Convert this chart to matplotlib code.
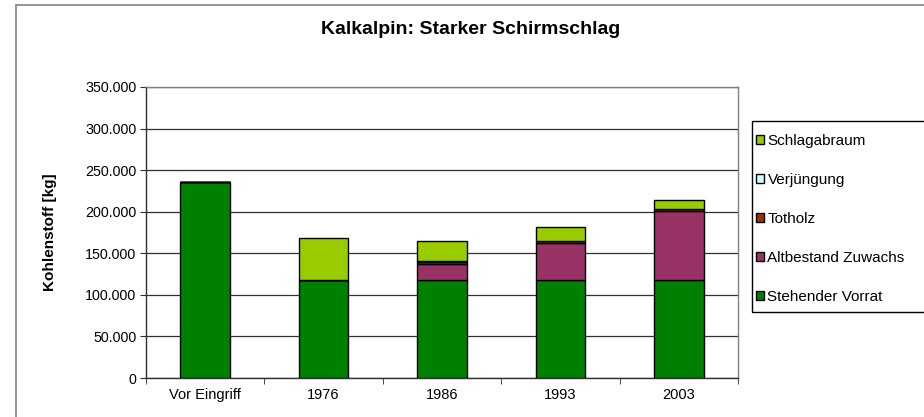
import matplotlib
matplotlib.use("Agg")
import matplotlib.pyplot as plt
from matplotlib.patches import Rectangle, Patch
from matplotlib.ticker import FuncFormatter, FixedLocator
import numpy as np

plt.rcParams['font.family'] = ['Liberation Sans', 'DejaVu Sans']

categories = ["Vor Eingriff", "1976", "1986", "1993", "2003"]
series_names = ["Stehender Vorrat", "Altbestand Zuwachs", "Totholz", "Verjüngung", "Schlagabraum"]
stehender_vorrat = [236000, 118000, 118000, 118000, 118000]
altbestand_zuwachs = [0, 0, 19500, 44300, 83300]
totholz = [0, 0, 2500, 2300, 1800]
verjuengung = [0, 0, 300, 400, 400]
schlagabraum = [0, 50000, 24500, 17000, 10300]
colors = ["#008000", "#993366", "#993300", "#CCFFFF", "#99CC00"]

W, H = 924, 417
fig = plt.figure(figsize=(W / 100, H / 100), dpi=100)

def fx(px):
    return px / W

def fy(py):
    return 1 - py / H

# outer chart frame (extends beyond right/bottom of image)
fig.patches.append(Rectangle((fx(16), fy(440)), fx(960) - fx(16), fy(5) - fy(440),
                             transform=fig.transFigure, fill=False,
                             edgecolor="#808080", linewidth=1.2))

left, right, top, bottom = 146, 738, 87, 378
ax = fig.add_axes([fx(left), fy(bottom), fx(right) - fx(left), fy(top) - fy(bottom)])

x = np.arange(len(categories))
data = [stehender_vorrat, altbestand_zuwachs, totholz, verjuengung, schlagabraum]
base = np.zeros(len(categories))
for vals, c, name in zip(data, colors, series_names):
    v = np.array(vals, dtype=float)
    ax.bar(x, v, width=0.42, bottom=base, color=c, edgecolor="black",
           linewidth=1.0, label=name, zorder=3)
    base += v

ax.set_xlim(-0.5, len(categories) - 0.5)
ax.set_ylim(0, 350000)
ax.set_yticks(np.arange(0, 350001, 50000))
ax.yaxis.set_major_formatter(FuncFormatter(lambda v, p: "0" if v == 0 else f"{int(v):,}".replace(",", ".")))
ax.grid(axis="y", color="#303030", linewidth=0.9, zorder=0)
ax.set_axisbelow(True)

ax.set_xticks(x)
ax.set_xticklabels(categories)
ax.xaxis.set_minor_locator(FixedLocator(np.arange(-0.5, len(categories), 1.0)))
ax.tick_params(axis="x", which="major", length=0, pad=7, labelsize=10.5)
ax.tick_params(axis="x", which="minor", length=4, direction="out", color="#303030")
ax.tick_params(axis="y", length=4, direction="out", color="#303030", labelsize=10.3, pad=3)

for s in ["top", "right"]:
    ax.spines[s].set_color("#808080")
    ax.spines[s].set_linewidth(1.0)
for s in ["left", "bottom"]:
    ax.spines[s].set_color("#303030")
    ax.spines[s].set_linewidth(1.0)

ax.set_ylabel("Kohlenstoff [kg]", fontsize=11, fontweight="bold", labelpad=20)

fig.text(fx(471), fy(30), "Kalkalpin: Starker Schirmschlag", ha="center", va="center",
         fontsize=14, fontweight="bold")

# legend box (extends beyond right edge)
fig.patches.append(Rectangle((fx(752), fy(312)), fx(960) - fx(752), fy(121) - fy(312),
                             transform=fig.transFigure, fill=False,
                             edgecolor="black", linewidth=1.0))
handles = [Patch(facecolor=c, edgecolor="black", linewidth=1.0) for c in colors]
order = list(range(len(series_names)))[::-1]
fig.legend([handles[i] for i in order], [series_names[i] for i in order],
           loc="upper left", bbox_to_anchor=(fx(756), fy(134)), frameon=False,
           fontsize=11, handlelength=0.55, handleheight=0.55, handletextpad=0.2,
           labelspacing=1.63, borderaxespad=0, borderpad=0)

fig.savefig("out.png", dpi=100)
